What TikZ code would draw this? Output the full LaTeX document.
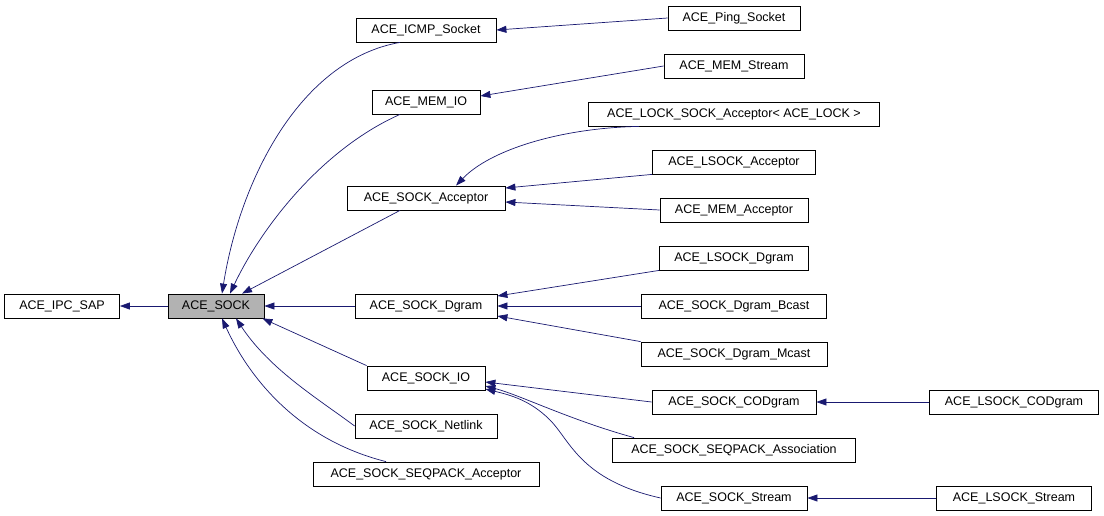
\documentclass[tikz,border=0pt]{standalone}
\usepackage{fontspec}
\setmainfont{Liberation Sans}
\usetikzlibrary{arrows.meta}
\definecolor{navy}{HTML}{191970}
\begin{document}
\begin{tikzpicture}[x=1pt,y=-1pt,
  box/.style={draw=black,fill=white,minimum height=24pt,inner sep=0pt,font=\fontsize{12.5}{14}\selectfont,line width=0.8pt},
  edge/.style={draw=navy,line width=0.7pt,-{Triangle[length=10pt,width=7pt]}}]
\useasboundingbox (0,0) rectangle (1104,515);
\node[box,minimum width=115pt] (ipc) at (62,306) {ACE\_IPC\_SAP};
\node[box,minimum width=96pt,fill=black!30] (sock) at (216,306) {ACE\_SOCK};
\node[box,minimum width=140pt] (icmp) at (426,30) {ACE\_ICMP\_Socket};
\node[box,minimum width=132pt] (ping) at (734,18) {ACE\_Ping\_Socket};
\node[box,minimum width=108pt] (memio) at (426,102) {ACE\_MEM\_IO};
\node[box,minimum width=140pt] (memstream) at (734,66) {ACE\_MEM\_Stream};
\node[box,minimum width=291pt] (lock) at (734,114) {ACE\_LOCK\_SOCK\_Acceptor< ACE\_LOCK >};
\node[box,minimum width=163pt] (lsacc) at (734,162) {ACE\_LSOCK\_Acceptor};
\node[box,minimum width=158pt] (sacc) at (426,198) {ACE\_SOCK\_Acceptor};
\node[box,minimum width=148pt] (memacc) at (734,210) {ACE\_MEM\_Acceptor};
\node[box,minimum width=149pt] (lsdgram) at (734,258) {ACE\_LSOCK\_Dgram};
\node[box,minimum width=142pt] (dgram) at (426,306) {ACE\_SOCK\_Dgram};
\node[box,minimum width=185pt] (bcast) at (734,306) {ACE\_SOCK\_Dgram\_Bcast};
\node[box,minimum width=186pt] (mcast) at (734,354) {ACE\_SOCK\_Dgram\_Mcast};
\node[box,minimum width=118pt] (sio) at (426,378) {ACE\_SOCK\_IO};
\node[box,minimum width=164pt] (cod) at (734,402) {ACE\_SOCK\_CODgram};
\node[box,minimum width=169pt] (lcod) at (1014,402) {ACE\_LSOCK\_CODgram};
\node[box,minimum width=142pt] (netlink) at (426,426) {ACE\_SOCK\_Netlink};
\node[box,minimum width=243pt] (assoc) at (734,450) {ACE\_SOCK\_SEQPACK\_Association};
\node[box,minimum width=226pt] (seqacc) at (426,474) {ACE\_SOCK\_SEQPACK\_Acceptor};
\node[box,minimum width=146pt] (stream) at (734,498) {ACE\_SOCK\_Stream};
\node[box,minimum width=155pt] (lstream) at (1014,498) {ACE\_LSOCK\_Stream};

\draw[edge] (sock) -- (ipc);
\draw[edge] (dgram) -- (sock);
\draw[edge] ([xshift=-26pt]icmp.south) .. controls (300,60) and (240,180) .. ([xshift=6pt]sock.north);
\draw[edge] ([xshift=-26pt]memio.south) .. controls (320,150) and (260,230) .. ([xshift=14pt]sock.north);
\draw[edge] ([xshift=-26pt]sacc.south) -- ([xshift=26pt]sock.north);
\draw[edge] (sio.north west) -- ([xshift=-2pt]sock.south east);
\draw[edge] (netlink.west) .. controls (320,400) and (270,370) .. ([xshift=20pt]sock.south);
\draw[edge] ([xshift=-40pt]seqacc.north) .. controls (300,440) and (250,380) .. ([xshift=6pt]sock.south);
\draw[edge] (ping.west) -- (icmp.east);
\draw[edge] (memstream.west) -- ([yshift=6pt]memio.east);
\draw[edge] ([xshift=-95pt]lock.south) .. controls (560,128) and (490,150) .. ([xshift=30pt]sacc.north);
\draw[edge] (lsacc.south west) -- ([yshift=10pt]sacc.east);
\draw[edge] (memacc.west) -- ([yshift=-4pt]sacc.east);
\draw[edge] (lsdgram.south west) -- ([yshift=10pt]dgram.east);
\draw[edge] (bcast) -- (dgram);
\draw[edge] (mcast.north west) -- ([yshift=-10pt]dgram.east);
\draw[edge] (cod.west) -- ([yshift=-4pt]sio.east);
\draw[edge] ([xshift=-100pt]assoc.north) .. controls (570,420) and (520,395) .. ([yshift=-8pt]sio.east);
\draw[edge] (stream.west) .. controls (580,480) and (570,440) .. (550,420) .. controls (530,400) and (510,395) .. ([yshift=-11pt]sio.east);
\draw[edge] (lcod) -- (cod);
\draw[edge] (lstream) -- (stream);
\end{tikzpicture}
\end{document}
